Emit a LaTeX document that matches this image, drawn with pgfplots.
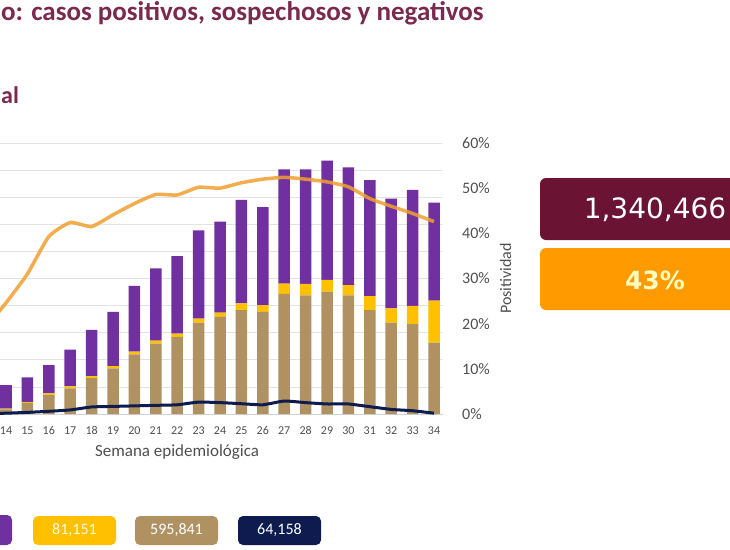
\documentclass[border=0pt]{standalone}
\usepackage{pgfplots}
\pgfplotsset{compat=1.18}
\usepackage{pgfplotstable}
\usepackage{fontspec}
\setmainfont{Carlito}
\newfontfamily\dejavu{DejaVu Sans}
\definecolor{cPur}{HTML}{7030A0}
\definecolor{cYel}{HTML}{FFC000}
\definecolor{cTan}{HTML}{B09262}
\definecolor{cNavy}{HTML}{0D1B4F}
\definecolor{cOrg}{HTML}{F0A030}
\definecolor{cMar}{HTML}{6A1333}
\definecolor{cBoxOrg}{HTML}{FF9A00}
\definecolor{cTitle}{HTML}{7A2A4E}
\definecolor{cTick}{HTML}{505050}

% values in thousands (left axis), positivity in percent (right axis)
\pgfplotstableread{
week neg  susp pos  deaths posit
13   1.0  0.2  5.0  0.1    18.8
14   1.7  0.3  8.7  0.3    24.6
15   4.0  0.4  9.1  0.6    31.0
16   7.0  0.6  10.4 1.0    39.3
17   9.5  0.7  13.6 1.5    42.4
18   13.2 0.8  17.0 2.6    41.5
19   16.8 0.9  20.0 2.8    44.1
20   22.0 1.0  24.3 3.0    46.6
21   26.0 1.1  26.6 3.2    48.6
22   28.5 1.2  28.6 3.4    48.5
23   33.7 1.5  32.6 4.4    50.2
24   35.8 1.6  33.6 4.2    50.0
25   38.3 2.5  38.2 3.8    51.2
26   37.7 2.5  36.1 3.4    52.0
27   44.3 3.8  42.2 4.8    52.4
28   43.8 4.2  42.3 4.2    52.0
29   45.2 4.3  44.0 3.7    51.4
30   43.8 3.8  43.4 3.7    50.3
31   38.3 5.2  42.8 2.7    47.7
32   33.7 5.3  40.5 1.7    46.0
33   33.2 6.7  42.8 1.2    44.4
34   26.3 15.5 36.2 0.3    42.6
}\data

\begin{document}
\begin{tikzpicture}
\useasboundingbox (0,0) rectangle (730pt,-549pt);
\clip (0,0) rectangle (730pt,-549pt);
\fill[white] (0,0) rectangle (730pt,-549pt);

% main bars
\begin{axis}[
  at={(-26.1pt,-414pt)}, anchor=south west, scale only axis,
  width=468.66pt, height=271pt,
  xmin=12.5, xmax=34.4, ymin=0, ymax=100,
  ybar stacked, bar width=11.5pt,
  /pgf/number format/assume math mode=true,
  ytick={0,10,...,100}, yticklabels={},
  ymajorgrids, grid style={gray!22, line width=0.8pt},
  axis x line*=bottom, axis y line*=left,
  x axis line style={gray!35, line width=0.8pt},
  y axis line style={draw=none},
  major tick length=0pt,
  xtick={14,...,34},
  xticklabel style={font=\fontsize{12}{14}\selectfont, text=cTick, yshift=-9pt},
  xlabel={Semana epidemiológica},
  xlabel style={at={(axis description cs:0.4334,0)}, anchor=base, yshift=-42pt,
    font=\fontsize{17}{20}\selectfont, text=cTick},
]
\addplot[fill=cTan, draw=none] table[x=week,y=neg]{\data};
\addplot[fill=cYel, draw=none] table[x=week,y=susp]{\data};
\addplot[fill=cPur, draw=none] table[x=week,y=pos]{\data};
\end{axis}

% positivity (right axis)
\begin{axis}[
  at={(-26.1pt,-414pt)}, anchor=south west, scale only axis,
  width=468.66pt, height=271pt,
  xmin=12.5, xmax=34.4, ymin=0, ymax=60,
  /pgf/number format/assume math mode=true,
  axis y line*=right, hide x axis,
  y axis line style={draw=none},
  major tick length=0pt,
  ytick={0,10,...,60},
  yticklabel={\pgfmathprintnumber{\tick}\%},
  yticklabel style={anchor=west, inner sep=0pt, xshift=19.4pt,
    font=\fontsize{16}{18}\selectfont, text=cTick},
  ylabel={Positividad},
  ylabel style={at={(axis description cs:1,0.5)}, anchor=center, yshift=-63pt,
    font=\fontsize{16}{18}\selectfont, text=cTick},
]
\addplot[cOrg, line width=3.5pt, opacity=0.85, smooth, tension=0.3] table[x=week,y=posit]{\data};
\end{axis}

% deaths line
\begin{axis}[
  at={(-26.1pt,-414pt)}, anchor=south west, scale only axis,
  width=468.66pt, height=271pt,
  xmin=12.5, xmax=34.4, ymin=0, ymax=100,
  hide x axis, hide y axis,
]
\addplot[cNavy, line width=3pt, smooth, tension=0.3] table[x=week,y=deaths]{\data};
\end{axis}

% title fragments
\node[anchor=base west, text=cTitle, inner sep=0pt, font=\bfseries\fontsize{27}{30}\selectfont] at (1pt,-20pt) {o: casos positivos, sospechosos y negativos};
\node[anchor=base west, text=cTitle, inner sep=0pt, font=\bfseries\fontsize{24}{28}\selectfont] at (1pt,-103pt) {al};

% summary boxes
\fill[cMar, rounded corners=6pt] (540pt,-178pt) rectangle (770pt,-240pt);
\node[text=white, font=\dejavu\fontsize{28}{30}\selectfont] at (655pt,-210pt) {1,340,466};
\fill[cBoxOrg, rounded corners=6pt] (540pt,-248pt) rectangle (770pt,-310pt);
\node[text=yellow!25, font=\dejavu\bfseries\fontsize{25}{30}\selectfont] at (655pt,-280pt) {43\%};

% legend value boxes
\fill[cPur, rounded corners=5pt] (-20pt,-515pt) rectangle (12pt,-545pt);
\fill[cYel, rounded corners=5pt] (33pt,-516pt) rectangle (116pt,-545pt);
\node[text=yellow!15, font=\fontsize{16}{18}\selectfont] at (74.5pt,-530.5pt) {81,151};
\fill[cTan, rounded corners=5pt] (135pt,-516pt) rectangle (218pt,-545pt);
\node[text=white, font=\fontsize{16}{18}\selectfont] at (176.5pt,-530.5pt) {595,841};
\fill[cNavy, rounded corners=5pt] (238pt,-516pt) rectangle (321pt,-545pt);
\node[text=white, font=\fontsize{16}{18}\selectfont] at (279.5pt,-530.5pt) {64,158};
\end{tikzpicture}
\end{document}
